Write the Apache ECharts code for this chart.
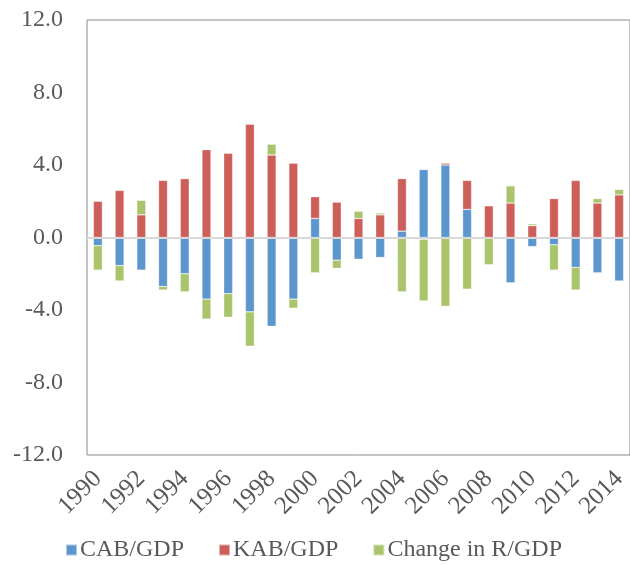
<!DOCTYPE html>
<html>
<head>
<meta charset="utf-8">
<script src="https://cdn.jsdelivr.net/npm/echarts@6/dist/echarts.min.js"></script>
<style>
html,body{margin:0;padding:0;background:#fff;}
#chart{width:630px;height:565px;}
</style>
</head>
<body>
<div id="chart"></div>
<script>
var years = ['1990','1991','1992','1993','1994','1995','1996','1997','1998','1999','2000','2001','2002','2003','2004','2005','2006','2007','2008','2009','2010','2011','2012','2013','2014'];
var cabGdp = [-0.45,-1.55,-1.8,-2.7,-2.0,-3.4,-3.1,-4.1,-4.9,-3.4,1.05,-1.25,-1.2,-1.1,0.35,3.75,4.0,1.55,0.0,-2.5,-0.5,-0.4,-1.65,-1.95,-2.4];
var kabGdp = [2.0,2.6,1.25,3.15,3.25,4.85,4.65,6.25,4.55,4.1,1.2,1.95,1.05,1.25,2.9,-0.1,0.1,1.6,1.75,1.9,0.65,2.15,3.15,1.9,2.35];
var changeRGdp = [-1.35,-0.85,0.8,-0.2,-1.0,-1.1,-1.3,-1.9,0.6,-0.5,-1.95,-0.45,0.4,0.1,-3.0,-3.4,-3.8,-2.85,-1.5,0.95,0.1,-1.4,-1.25,0.25,0.3];
var seriesNames = ['CAB/GDP','KAB/GDP','Change in R/GDP'];
var yTicks = {min:-12, max:12, interval:4};

var font = 'Liberation Serif';
var chart = echarts.init(document.getElementById('chart'), null, {renderer:'canvas'});
function bar(name, data, color, extra){
  var s = {
    name: name, type: 'bar', stack: 'total', data: data, barWidth: 9,
    itemStyle: {color: color, borderColor: 'rgba(255,255,255,0.5)', borderWidth: 0.6},
    emphasis: {disabled: true}
  };
  if (extra) Object.assign(s, extra);
  return s;
}
chart.setOption({
  animation: false,
  backgroundColor: '#ffffff',
  color: ['#5b96cc','#cd5f5a','#a9c46b'],
  grid: {left: 87, top: 20, width: 548, height: 435, show: true, borderColor: '#8a8a8a', borderWidth: 1, containLabel: false},
  legend: {
    data: seriesNames, left: 60, top: 533, itemWidth: 11, itemHeight: 11, itemGap: 34,
    icon: 'rect',
    textStyle: {fontFamily: font, fontSize: 24, color: '#595959', padding: [0,0,0,-2]}
  },
  xAxis: {
    type: 'category', data: years,
    axisLine: {show: false, onZero: false},
    axisTick: {show: false},
    splitLine: {show: false},
    axisLabel: {interval: 1, rotate: 45, margin: 20, fontFamily: font, fontSize: 25, color: '#595959'}
  },
  yAxis: {
    type: 'value', min: yTicks.min, max: yTicks.max, interval: yTicks.interval,
    axisLine: {show: false}, axisTick: {show: false}, splitLine: {show: false},
    axisLabel: {margin: 24, fontFamily: font, fontSize: 24, color: '#595959', formatter: function(v){return v.toFixed(1);}}
  },
  series: [
    bar(seriesNames[0], cabGdp, '#5b96cc'),
    bar(seriesNames[1], kabGdp, '#cd5f5a'),
    bar(seriesNames[2], changeRGdp, '#a9c46b', {
      markLine: {silent: true, symbol: 'none', label: {show: false}, z: 10,
        lineStyle: {color: '#d9d9d9', width: 2, type: 'solid'},
        data: [{yAxis: 0}]}
    })
  ]
});
</script>
</body>
</html>
